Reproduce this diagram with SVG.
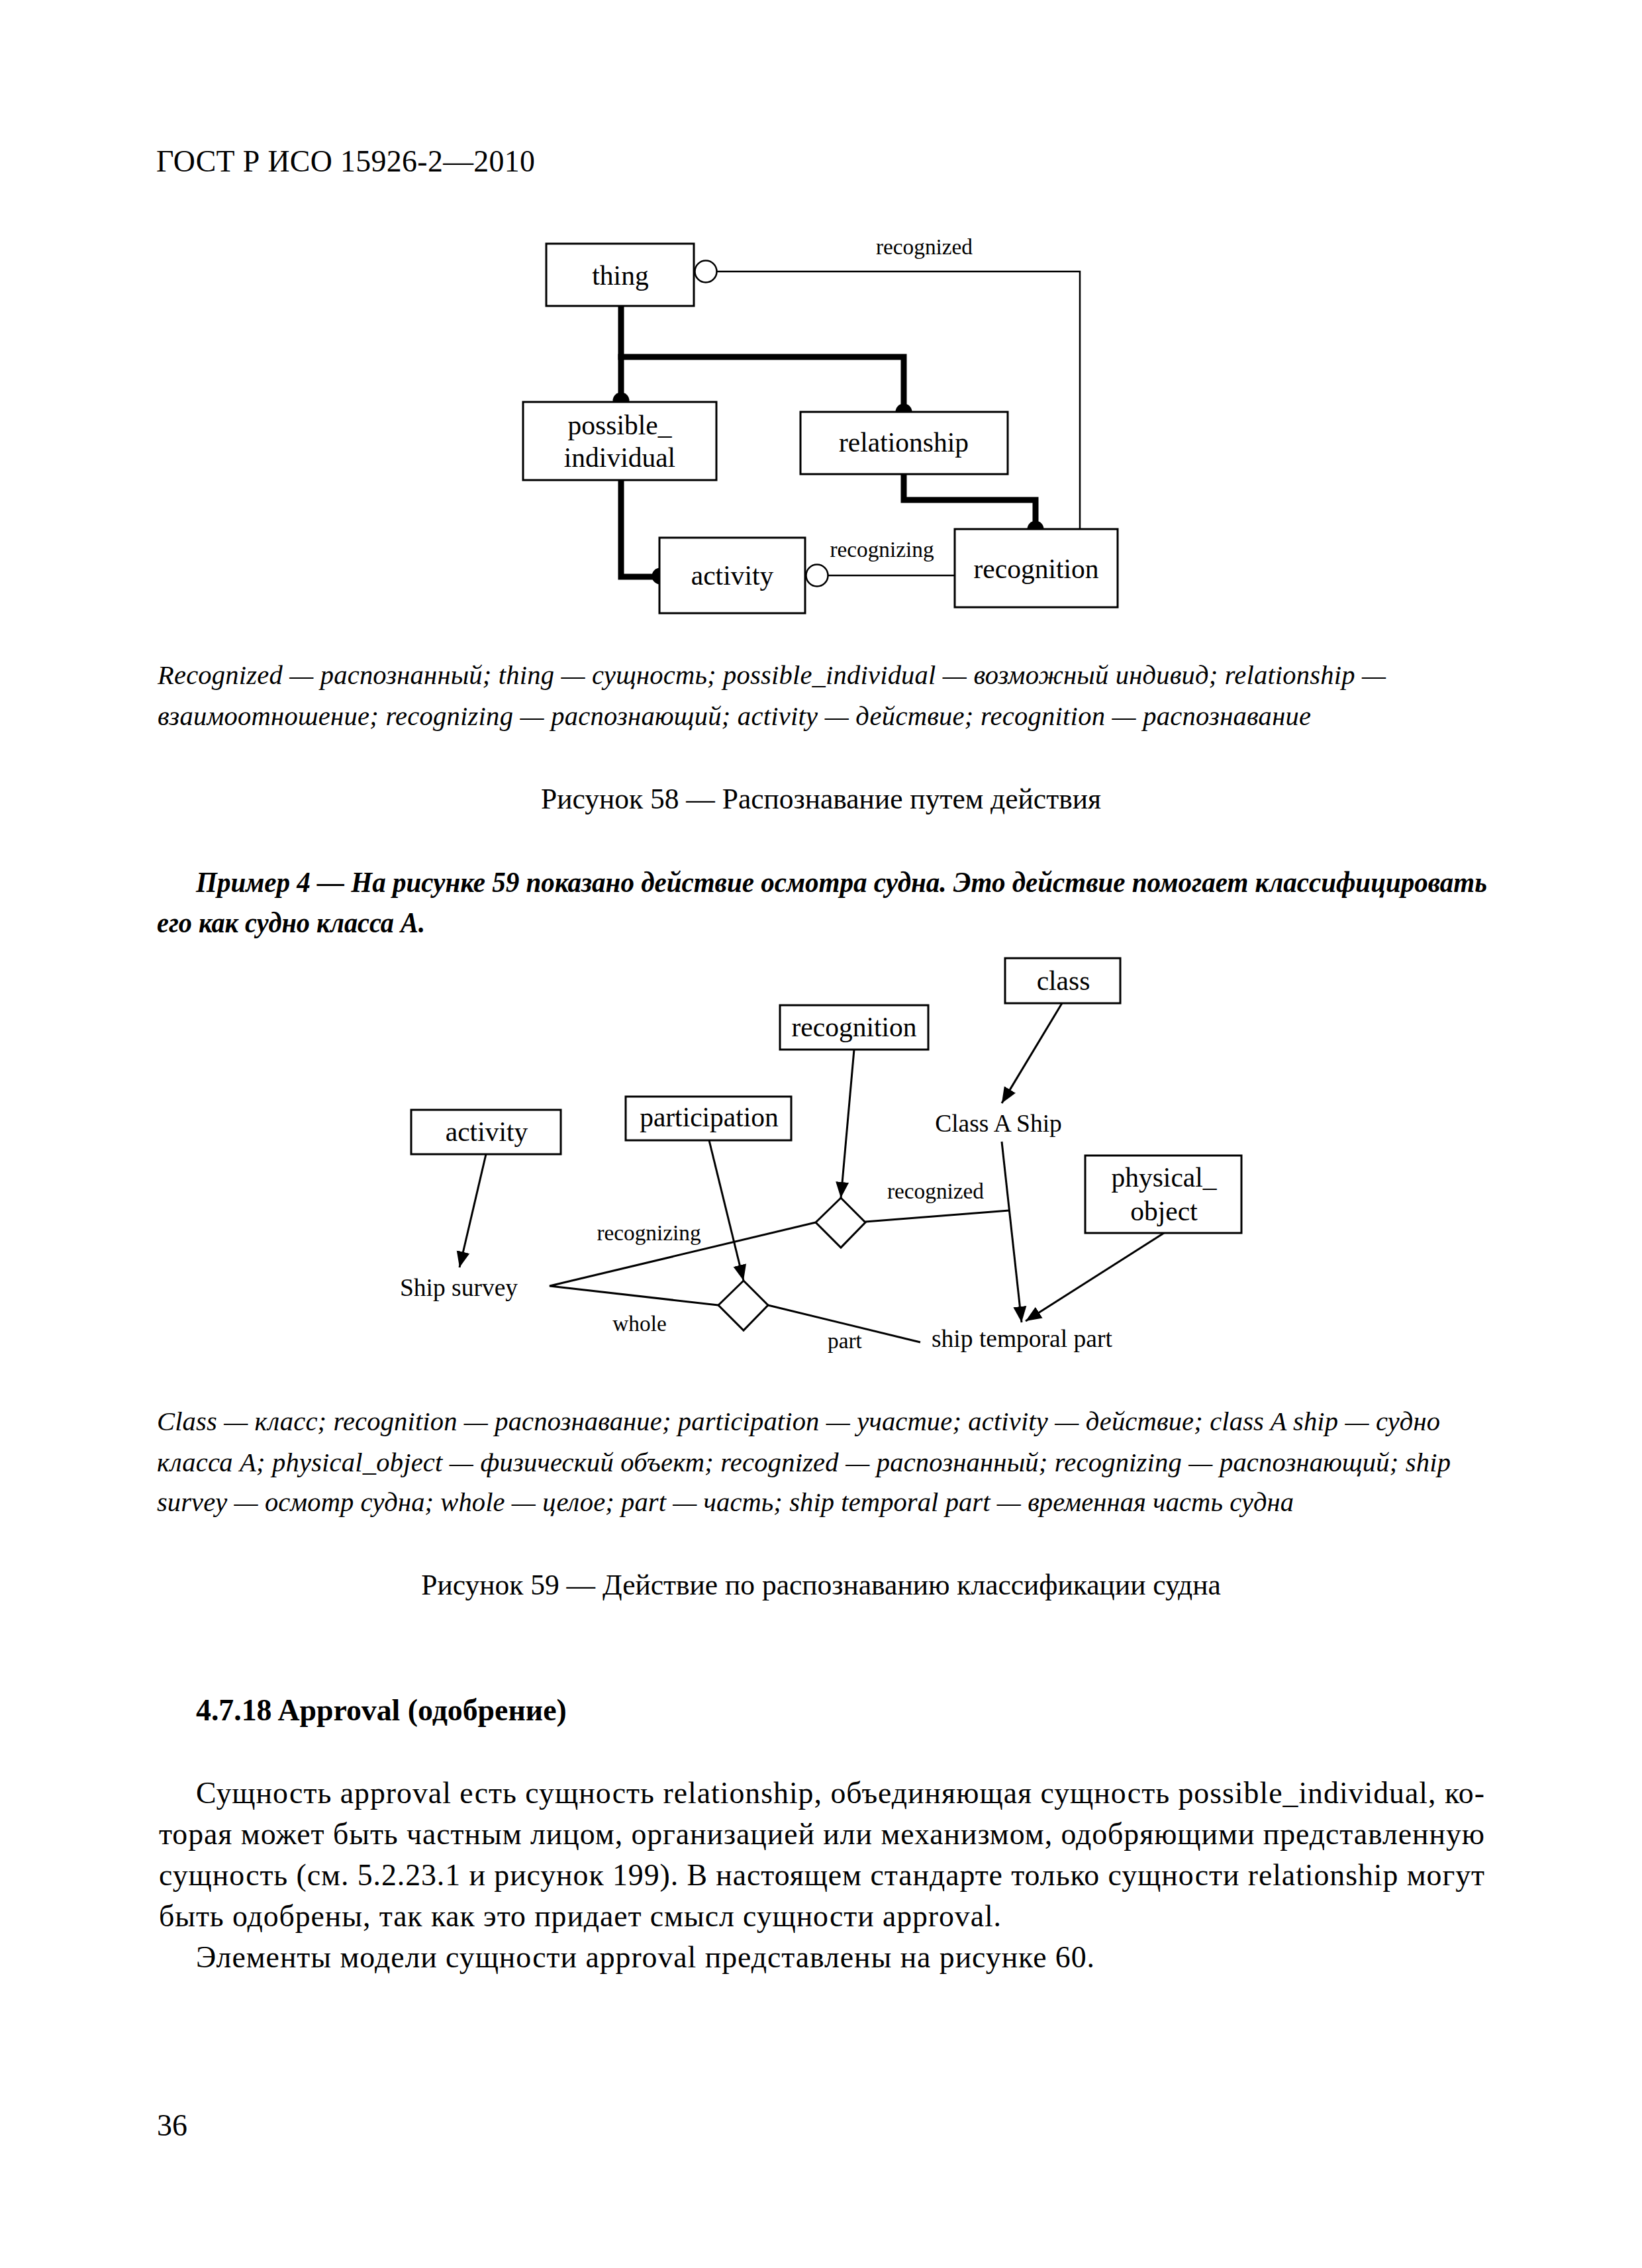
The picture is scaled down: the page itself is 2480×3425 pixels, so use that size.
<svg xmlns="http://www.w3.org/2000/svg" width="2480" height="3425" viewBox="0 0 2480 3425">
<style>
text{font-family:"Liberation Serif","Times New Roman",serif;fill:#000}
.box{fill:#fff;stroke:#000;stroke-width:3}
.lbl{font-size:41.5px;text-anchor:middle}
.free{font-size:37.5px}
.sm{font-size:33.3px}
.thin{fill:none;stroke:#000;stroke-width:2.5}
.thick{fill:none;stroke:#000;stroke-width:9;stroke-linejoin:miter;stroke-linecap:square}
.ln{fill:none;stroke:#000;stroke-width:3}
.arr{fill:none;stroke:#000;stroke-width:3;marker-end:url(#ah)}
.body{font-size:45.8px}
.leg{font-size:40.5px;font-style:italic}
.cap{font-size:43.5px;text-anchor:middle}
.ex{font-size:44px;font-weight:bold;font-style:italic}
</style>
<defs>
<marker id="ah" markerUnits="userSpaceOnUse" markerWidth="26" markerHeight="24" viewBox="0 0 26 24" refX="24" refY="12" orient="auto">
<path d="M0,2 L24,12 L0,22 z" fill="#000"/>
</marker>
</defs>
<rect width="2480" height="3425" fill="#fff"/>

<text x="236" y="259" class="body" textLength="572" lengthAdjust="spacing">ГОСТ Р ИСО 15926-2—2010</text>

<!-- Figure 58 -->
<g id="fig58-connectors">
<path class="thin" d="M1083,410 H1631 V799"/>
<path class="thin" d="M1251,869 H1442"/>
<path class="thick" d="M938,462 V604"/>
<path class="thick" d="M938,539 H1365 V621"/>
<path class="thick" d="M1365,716 V755 H1564 V799"/>
<path class="thick" d="M938,725 V871 H997"/>
<circle cx="938" cy="605" r="12.5" fill="#000"/>
<circle cx="1365" cy="622" r="12.5" fill="#000"/>
<circle cx="1564" cy="799" r="12.5" fill="#000"/>
<circle cx="997" cy="870" r="12.5" fill="#000"/>
<circle cx="1066" cy="410" r="16.5" fill="#fff" stroke="#000" stroke-width="2.5"/>
<circle cx="1234" cy="869" r="16.5" fill="#fff" stroke="#000" stroke-width="2.5"/>
<text x="1396" y="384" class="sm" text-anchor="middle">recognized</text>
<text x="1332" y="841" class="sm" text-anchor="middle">recognizing</text>
</g>
<g id="f58-thing"><rect class="box" x="825" y="368" width="223" height="94"/><text x="937" y="430" class="lbl">thing</text></g>
<g id="f58-possible_individual"><rect class="box" x="790" y="607" width="292" height="118"/><text x="936" y="656" class="lbl">possible_</text><text x="936" y="705" class="lbl">individual</text></g>
<g id="f58-relationship"><rect class="box" x="1209" y="622" width="313" height="94"/><text x="1365" y="682" class="lbl">relationship</text></g>
<g id="f58-activity"><rect class="box" x="996" y="812" width="220" height="114"/><text x="1106" y="883" class="lbl">activity</text></g>
<g id="f58-recognition"><rect class="box" x="1442" y="799" width="246" height="118"/><text x="1565" y="873" class="lbl">recognition</text></g>

<text x="238" y="1033" class="leg" textLength="1855" lengthAdjust="spacing">Recognized — распознанный; thing — сущность; possible_individual — возможный индивид; relationship —</text>
<text x="238" y="1095" class="leg" textLength="1742" lengthAdjust="spacing">взаимоотношение; recognizing — распознающий; activity — действие; recognition — распознавание</text>
<text x="1240" y="1221" class="cap">Рисунок 58 — Распознавание путем действия</text>

<text x="296" y="1347" class="ex" textLength="1950" lengthAdjust="spacingAndGlyphs">Пример 4 — На рисунке 59 показано действие осмотра судна. Это действие помогает классифицировать</text>
<text x="237" y="1408" class="ex" textLength="405" lengthAdjust="spacingAndGlyphs">его как судно класса А.</text>

<!-- Figure 59 -->
<g id="fig59-connectors">
<path class="arr" d="M1604,1515 L1513,1666"/>
<path class="arr" d="M1290,1585 L1270,1809"/>
<path class="arr" d="M1071,1722 L1123,1934"/>
<path class="arr" d="M734,1743 L694,1914"/>
<path class="arr" d="M1513,1724 L1543,1997"/>
<path class="arr" d="M1758,1862 L1549,1995"/>
<path class="ln" d="M1232,1846 L830,1942 L1085,1971"/>
<path class="ln" d="M1307,1845 L1524,1828"/>
<path class="ln" d="M1160,1971 L1390,2027"/>
<text x="980" y="1873" class="sm" text-anchor="middle">recognizing</text>
<text x="1413" y="1810" class="sm" text-anchor="middle">recognized</text>
<text x="966" y="2010" class="sm" text-anchor="middle">whole</text>
<text x="1276" y="2036" class="sm" text-anchor="middle">part</text>
</g>
<g id="f59-recognition-diamond"><path class="ln" fill="#fff" d="M1270,1809 L1307,1846 L1270,1884 L1232,1846 z"/></g>
<g id="f59-participation-diamond"><path class="ln" fill="#fff" d="M1123,1934 L1160,1971 L1123,2009 L1085,1971 z"/></g>
<g id="f59-class"><rect class="box" x="1518" y="1447" width="174" height="68"/><text x="1606" y="1495" class="lbl">class</text></g>
<g id="f59-recognition"><rect class="box" x="1178" y="1518" width="224" height="67"/><text x="1290" y="1565" class="lbl">recognition</text></g>
<g id="f59-participation"><rect class="box" x="945" y="1656" width="250" height="66"/><text x="1071" y="1701" class="lbl">participation</text></g>
<g id="f59-activity"><rect class="box" x="621" y="1676" width="226" height="67"/><text x="735" y="1723" class="lbl">activity</text></g>
<g id="f59-physical_object"><rect class="box" x="1639" y="1745" width="236" height="117"/><text x="1758" y="1792" class="lbl">physical_</text><text x="1758" y="1843" class="lbl">object</text></g>
<g id="f59-class-a-ship"><text x="1508" y="1709" class="free" text-anchor="middle">Class A Ship</text></g>
<g id="f59-ship-survey"><text x="693" y="1957" class="free" text-anchor="middle">Ship survey</text></g>
<g id="f59-ship-temporal-part"><text x="1407" y="2034" class="free">ship temporal part</text></g>

<text x="237" y="2160" class="leg" textLength="1938" lengthAdjust="spacing">Class — класс; recognition — распознавание; participation — участие; activity — действие; class A ship — судно</text>
<text x="237" y="2222" class="leg" textLength="1954" lengthAdjust="spacing">класса А; physical_object — физический объект; recognized — распознанный; recognizing — распознающий; ship</text>
<text x="237" y="2282" class="leg" textLength="1717" lengthAdjust="spacing">survey — осмотр судна; whole — целое; part — часть; ship temporal part — временная часть судна</text>
<text x="1240" y="2408" class="cap">Рисунок 59 — Действие по распознаванию классификации судна</text>

<text x="296" y="2598" class="body" font-weight="bold">4.7.18 Approval (одобрение)</text>
<text x="296" y="2723" class="body" textLength="1946" lengthAdjust="spacing">Сущность approval есть сущность relationship, объединяющая сущность possible_individual, ко-</text>
<text x="240" y="2785" class="body" textLength="2002" lengthAdjust="spacing">торая может быть частным лицом, организацией или механизмом, одобряющими представленную</text>
<text x="240" y="2847" class="body" textLength="2002" lengthAdjust="spacing">сущность (см. 5.2.23.1 и рисунок 199). В настоящем стандарте только сущности relationship могут</text>
<text x="240" y="2909" class="body" textLength="1272" lengthAdjust="spacing">быть одобрены, так как это придает смысл сущности approval.</text>
<text x="296" y="2971" class="body" textLength="1357" lengthAdjust="spacing">Элементы модели сущности approval представлены на рисунке 60.</text>

<text x="237" y="3225" class="body">36</text>
</svg>
